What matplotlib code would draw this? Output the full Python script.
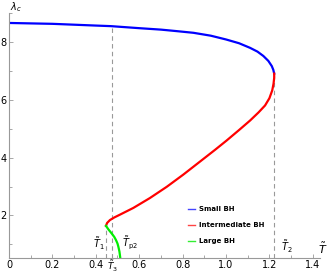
import matplotlib
matplotlib.use("Agg")
import matplotlib.pyplot as plt
from matplotlib.ticker import MultipleLocator
from matplotlib.lines import Line2D

# Data
small_T = [0.0, 0.2, 0.4, 0.47, 0.6, 0.7, 0.77, 0.85, 0.93, 1.0, 1.06, 1.111, 1.145, 1.172,
           1.195, 1.211, 1.218, 1.222]
small_L = [8.65, 8.62, 8.56, 8.54, 8.47, 8.42, 8.37, 8.31, 8.21, 8.08, 7.95, 7.79, 7.66, 7.51,
           7.34, 7.16, 7.03, 6.90]
inter_T = [1.222, 1.222, 1.219, 1.213, 1.200, 1.180, 1.150, 1.111, 1.060, 1.003, 0.950,
           0.880, 0.803, 0.727, 0.649, 0.573, 0.512, 0.485, 0.465, 0.452, 0.447]
inter_L = [6.90, 6.75, 6.55, 6.32, 6.05, 5.80, 5.56, 5.28, 4.95, 4.59, 4.27,
           3.86, 3.41, 2.99, 2.60, 2.26, 2.03, 1.93, 1.84, 1.74, 1.64]
large_T = [0.447, 0.458, 0.473, 0.485, 0.493, 0.500, 0.504, 0.509, 0.512, 0.515]
large_L = [1.64, 1.52, 1.38, 1.26, 1.15, 1.03, 0.92, 0.75, 0.58, 0.40]

T1, T3, T2 = 0.447, 0.474, 1.222
T1_top, T3_top, T2_top = 1.64, 8.53, 6.90

fig = plt.figure(figsize=(3.27, 2.73), dpi=100)
ax = fig.add_axes([0.0275, 0.056, 0.951, 0.897])
ax.set_xlim(0, 1.433)
ax.set_ylim(0.54, 9.0)

gray = "#999999"
ax.plot([T1, T1], [0.54, T1_top], ls=(0, (4, 3)), color=gray, lw=0.8)
ax.plot([T3, T3], [0.54, T3_top], ls=(0, (4, 3)), color=gray, lw=0.8)
ax.plot([T2, T2], [0.54, T2_top], ls=(0, (4, 3)), color=gray, lw=0.8)

ax.plot(small_T, small_L, color="#0000ff", lw=1.6, solid_joinstyle="round")
ax.plot(inter_T, inter_L, color="#ff0000", lw=1.6, solid_joinstyle="round")
ax.plot(large_T, large_L, color="#00ee00", lw=1.6, solid_joinstyle="round")

for s in ["top", "right"]:
    ax.spines[s].set_visible(False)
for s in ["left", "bottom"]:
    ax.spines[s].set_color(gray)
    ax.spines[s].set_linewidth(0.8)

ax.xaxis.set_minor_locator(MultipleLocator(0.1))
ax.yaxis.set_major_locator(MultipleLocator(2))
ax.yaxis.set_minor_locator(MultipleLocator(1))
ax.set_xticks([0, 0.2, 0.4, 0.6, 0.8, 1.0, 1.2, 1.4])
ax.set_xticklabels(["0", "0.2", "0.4", "0.6", "0.8", "1.0", "1.2", "1.4"])
ax.tick_params(which="both", direction="in", color=gray, labelsize=7, pad=2, width=0.6)
ax.tick_params(which="major", length=3)
ax.tick_params(which="minor", length=2)

fs = 7
ax.text(T1 - 0.005, 0.75, r"$\tilde{T}_1$", fontsize=fs, ha="right", va="bottom")
ax.text(T3 + 0.002, 0.50, r"$\tilde{T}_3$", fontsize=6.5, ha="center", va="top", clip_on=False)
ax.text(0.52, 0.75, r"$\tilde{T}_{\rm p2}$", fontsize=fs, ha="left", va="bottom")
ax.text(T2 + 0.03, 0.62, r"$\tilde{T}_2$", fontsize=fs, ha="left", va="bottom")
ax.text(1.425, 0.6, r"$\tilde{T}$", fontsize=fs + 1, ha="left", va="bottom", clip_on=False)
ax.text(0.003, 8.95, r"$\lambda_c$", fontsize=fs, ha="left", va="bottom", clip_on=False)

handles = [Line2D([], [], color="#4444ff", lw=1.0),
           Line2D([], [], color="#ff4444", lw=1.0),
           Line2D([], [], color="#33ee33", lw=1.0)]
fig.legend(handles, ["Small BH", "Intermediate BH", "Large BH"],
           loc="upper left", bbox_to_anchor=(0.565, 0.258), frameon=False,
           prop={"size": 5.0, "weight": "bold"}, handlelength=1.0,
           handletextpad=0.5, labelspacing=1.45, borderpad=0)

fig.savefig("out.png", dpi=100)
